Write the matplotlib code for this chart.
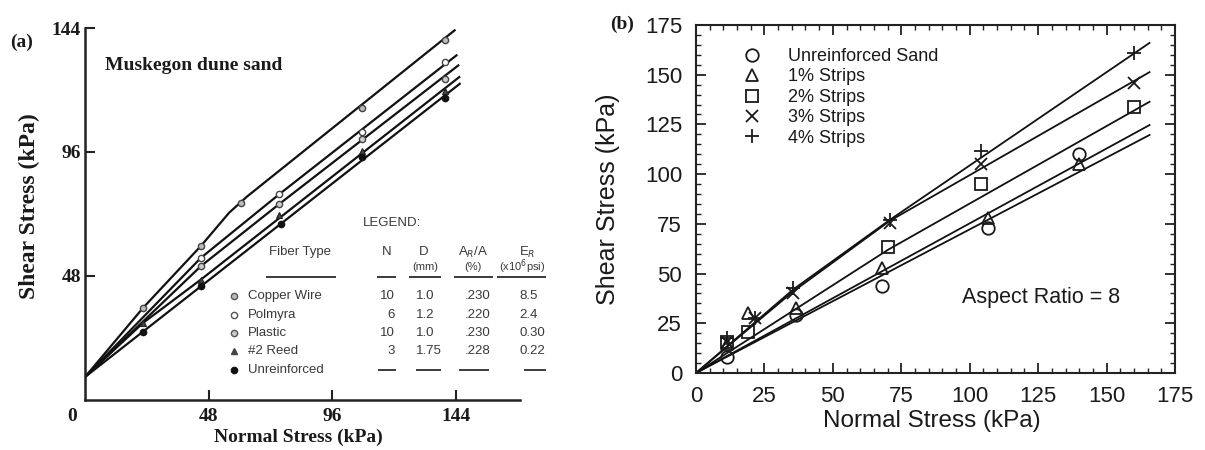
import matplotlib
matplotlib.use("Agg")
import matplotlib.pyplot as plt
from matplotlib.lines import Line2D
from matplotlib.ticker import MultipleLocator

# ---------------- Panel (a): Muskegon dune sand ----------------
a_xticks = [48, 96, 144]
a_yticks = [48, 96, 144]

# measured points
a_copper_x = [22.5, 45.0, 60.6, 107.5, 140.0]
a_copper_y = [35.6, 59.6, 76.4, 112.9, 139.5]
a_palmyra_x = [45.0, 75.4, 107.5, 140.0]
a_palmyra_y = [55.0, 79.6, 103.6, 130.8]
a_plastic_x = [45.0, 75.4, 107.5, 140.0]
a_plastic_y = [51.8, 75.8, 101.0, 124.3]
a_reed_x = [22.5, 45.0, 75.4, 107.5, 140.0]
a_reed_y = [29.8, 46.6, 71.5, 96.5, 119.8]
a_unr_x = [22.5, 45.0, 76.2, 107.5, 140.0]
a_unr_y = [26.5, 44.0, 68.0, 93.9, 116.8]

# failure envelopes
a_copper_fit_x = [0, 22.5, 45.0, 56.0, 63.0, 143.6]
a_copper_fit_y = [8.9, 35.6, 59.6, 72.5, 78.8, 143.1]
a_palmyra_fit_x = [0, 45.0, 75.4, 144.3]
a_palmyra_fit_y = [8.9, 55.0, 79.6, 133.4]
a_plastic_fit_x = [0, 45.0, 75.4, 145.0]
a_plastic_fit_y = [8.9, 51.8, 75.8, 129.5]
a_reed_fit_x = [0, 22.5, 45.0, 145.4]
a_reed_fit_y = [8.9, 29.8, 46.6, 125.0]
a_unr_fit_x = [0, 145.6]
a_unr_fit_y = [8.9, 122.4]

fiber_types = ["Copper Wire", "Polmyra", "Plastic", "#2 Reed", "Unreinforced"]
fiber_N = ["10", "6", "10", "3", ""]
fiber_D = ["1.0", "1.2", "1.0", "1.75", ""]
fiber_A = [".230", ".220", ".230", ".228", ""]
fiber_E = ["8.5", "2.4", "0.30", "0.22", ""]

# ---------------- Panel (b): Aspect ratio = 8 ----------------
b_ticks = [0, 25, 50, 75, 100, 125, 150, 175]
b_labels = ["Unreinforced Sand", "1% Strips", "2% Strips", "3% Strips", "4% Strips"]

b_unr_x = [11.4, 36.7, 68.1, 106.7, 140.1]
b_unr_y = [7.9, 29.2, 43.7, 72.7, 110.1]
b_s1_x = [11.4, 19.1, 36.7, 68.1, 106.7, 140.1]
b_s1_y = [14.5, 30.0, 32.5, 52.6, 77.8, 105.0]
b_s2_x = [11.4, 19.1, 70.2, 104.3, 160.2]
b_s2_y = [15.5, 20.8, 63.5, 95.0, 133.9]
b_s3_x = [11.4, 21.5, 35.5, 70.8, 104.3, 160.2]
b_s3_y = [15.7, 27.5, 40.1, 75.6, 104.9, 145.6]
b_s4_x = [11.4, 21.5, 35.5, 70.8, 104.3, 160.2]
b_s4_y = [17.4, 27.5, 42.6, 76.9, 111.8, 160.7]

b_unr_fit_x = [0, 165.7]
b_unr_fit_y = [0, 119.7]
b_s1_fit_x = [0, 165.7]
b_s1_fit_y = [0, 124.7]
b_s2_fit_x = [0, 70.2, 165.7]
b_s2_fit_y = [0, 62.0, 136.4]
b_s3_fit_x = [0, 35.5, 70.8, 165.7]
b_s3_fit_y = [0, 41.0, 76.5, 151.3]
b_s4_fit_x = [0, 35.5, 70.8, 165.7]
b_s4_fit_y = [0, 42.0, 77.0, 166.0]

# ======================================================================
W, H = 1205, 450
fig = plt.figure(figsize=(W / 100, H / 100), dpi=100)
fig.patch.set_facecolor("white")

def fx(px):
    return px / W

def fy(py):
    return 1 - py / H

SERIF = ["Liberation Serif", "DejaVu Serif"]
SANS = ["Liberation Sans", "DejaVu Sans"]
INK = "#1a1a1a"

# ---------------- Panel (a) ----------------
axa = fig.add_axes([fx(85), fy(400), (520 - 85) / W, (400 - 28) / H])
axa.set_xlim(0, 169)
axa.set_ylim(0, 144)
for s in ["top", "right"]:
    axa.spines[s].set_visible(False)
for s in ["left", "bottom"]:
    axa.spines[s].set_linewidth(1.8)
    axa.spines[s].set_color("#222222")

lw_a = 1.6
for fx_, fy_ in [(a_copper_fit_x, a_copper_fit_y), (a_palmyra_fit_x, a_palmyra_fit_y),
                 (a_plastic_fit_x, a_plastic_fit_y), (a_reed_fit_x, a_reed_fit_y),
                 (a_unr_fit_x, a_unr_fit_y)]:
    axa.plot(fx_, fy_, color="#111111", lw=lw_a, solid_joinstyle="round", zorder=2)

ms_a = 4.5
axa.plot(a_copper_x, a_copper_y, "o", ms=ms_a, mfc="#bbbbbb", mec="#444444", mew=1.0, zorder=3)
axa.plot(a_palmyra_x, a_palmyra_y, "o", ms=ms_a, mfc="white", mec="#444444", mew=1.0, zorder=3)
axa.plot(a_plastic_x, a_plastic_y, "o", ms=ms_a, mfc="#cccccc", mec="#444444", mew=1.0, zorder=3)
axa.plot(a_reed_x, a_reed_y, "^", ms=ms_a, mfc="#444444", mec="#222222", mew=0.8, zorder=3)
axa.plot(a_unr_x, a_unr_y, "o", ms=ms_a, mfc="#111111", mec="#111111", zorder=3)

axa.set_xticks(a_xticks)
axa.set_yticks(a_yticks)
axa.set_xticklabels([str(v) for v in a_xticks])
axa.set_yticklabels([str(v) for v in a_yticks])
axa.tick_params(direction="in", length=7, width=1.5, color="#222222")
axa.tick_params(axis="x", pad=6)
axa.tick_params(axis="y", pad=3)
for lab in axa.get_xticklabels() + axa.get_yticklabels():
    lab.set_fontfamily(SERIF)
    lab.set_fontweight("bold")
    lab.set_fontsize(14)
    lab.set_color(INK)
axa.annotate("0", xy=(0, 0), xytext=(-9, -6), textcoords="offset points",
             ha="center", va="top", fontsize=14, fontweight="bold",
             family=SERIF, color=INK, annotation_clip=False)

axa.set_xlabel("Normal Stress (kPa)", family=SERIF, fontweight="bold",
               fontsize=14, color=INK, va="center")
axa.xaxis.set_label_coords((298 - 85) / 435, (400 - 437) / 372)
axa.set_ylabel("Shear Stress (kPa)", family=SERIF, fontweight="bold",
               fontsize=17, color=INK, va="center")
axa.yaxis.set_label_coords((29 - 85) / 435, (400 - 206) / 372)

fig.text(fx(22), fy(42), "(a)", family=SERIF, fontweight="bold", fontsize=14,
         ha="center", va="center", color=INK)
axa.text((105 - 85) / 435, (400 - 65) / 372, "Muskegon dune sand", transform=axa.transAxes,
         family=SERIF, fontweight="bold", fontsize=14, ha="left", va="center", color=INK)

# legend table of panel (a)
TC = "#3a3a3a"
tfs = 9.5
fig.text(fx(363), fy(223), "LEGEND:", family=SANS, fontsize=tfs, color=TC, ha="left", va="center")
fig.text(fx(300), fy(252), "Fiber Type", family=SANS, fontsize=tfs, color=TC, ha="center", va="center")
fig.text(fx(387), fy(252), "N", family=SANS, fontsize=tfs, color=TC, ha="center", va="center")
fig.text(fx(424), fy(252), "D", family=SANS, fontsize=tfs, color=TC, ha="center", va="center")
fig.text(fx(425), fy(267), "(mm)", family=SANS, fontsize=8, color=TC, ha="center", va="center")
fig.text(fx(473), fy(252), r"A$_R$/A", family=SANS, fontsize=tfs, color=TC, ha="center", va="center")
fig.text(fx(473), fy(267), "(%)", family=SANS, fontsize=8, color=TC, ha="center", va="center")
fig.text(fx(527), fy(252), r"E$_R$", family=SANS, fontsize=tfs, color=TC, ha="center", va="center")
fig.text(fx(522), fy(267), r"(x10$^6$psi)", family=SANS, fontsize=8, color=TC, ha="center", va="center")
for x0, x1 in [(267, 335), (378, 395), (410, 440), (455, 492), (498, 545)]:
    fig.add_artist(Line2D([fx(x0), fx(x1)], [fy(277), fy(277)], transform=fig.transFigure,
                          color=TC, lw=1.4))

row_y = [296, 315, 333, 351, 370]
mk_styles = [dict(marker="o", mfc="#bbbbbb", mec="#555555"),
             dict(marker="o", mfc="white", mec="#555555"),
             dict(marker="o", mfc="#cccccc", mec="#555555"),
             dict(marker="^", mfc="#444444", mec="#444444"),
             dict(marker="o", mfc="#111111", mec="#111111")]
for i, name in enumerate(fiber_types):
    yy = fy(row_y[i])
    fig.add_artist(Line2D([fx(234)], [yy], transform=fig.transFigure, ls="none",
                          ms=4.5, mew=1.0, **mk_styles[i]))
    fig.text(fx(248), yy, name, family=SANS, fontsize=tfs, color=TC, ha="left", va="center")
    if fiber_N[i]:
        fig.text(fx(395), yy, fiber_N[i], family=SANS, fontsize=tfs, color=TC, ha="right", va="center")
        fig.text(fx(416), yy, fiber_D[i], family=SANS, fontsize=tfs, color=TC, ha="left", va="center")
        fig.text(fx(490), yy, fiber_A[i], family=SANS, fontsize=tfs, color=TC, ha="right", va="center")
        fig.text(fx(519), yy, fiber_E[i], family=SANS, fontsize=tfs, color=TC, ha="left", va="center")
    else:
        for x0, x1 in [(379, 395), (417, 440), (460, 488), (525, 545)]:
            fig.add_artist(Line2D([fx(x0), fx(x1)], [yy, yy], transform=fig.transFigure,
                                  color=TC, lw=1.4))

# ---------------- Panel (b) ----------------
axb = fig.add_axes([fx(696), fy(373), (1175 - 696) / W, (373 - 25) / H])
axb.set_xlim(0, 175)
axb.set_ylim(0, 175)
for s in axb.spines.values():
    s.set_linewidth(1.5)
    s.set_color("#222222")

lw_b = 1.3
for fx_, fy_ in [(b_unr_fit_x, b_unr_fit_y), (b_s1_fit_x, b_s1_fit_y), (b_s2_fit_x, b_s2_fit_y),
                 (b_s3_fit_x, b_s3_fit_y), (b_s4_fit_x, b_s4_fit_y)]:
    axb.plot(fx_, fy_, color="#111111", lw=lw_b, zorder=2)

mkw = dict(ls="none", mfc="none", mec="#1a1a1a", mew=1.3, zorder=3)
h0, = axb.plot(b_unr_x, b_unr_y, marker="o", ms=9, **mkw)
h1, = axb.plot(b_s1_x, b_s1_y, marker="^", ms=8, **mkw)
h2, = axb.plot(b_s2_x, b_s2_y, marker="s", ms=8.5, **mkw)
h3, = axb.plot(b_s3_x, b_s3_y, marker="x", ms=9, **mkw)
h4, = axb.plot(b_s4_x, b_s4_y, marker="+", ms=10, **mkw)

leg = axb.legend([h0, h1, h2, h3, h4], b_labels, loc="upper left",
                 bbox_to_anchor=((743 - 696) / 479, (373 - 48) / 348),
                 frameon=False, borderpad=0, borderaxespad=0, handlelength=1.0,
                 handletextpad=1.5, labelspacing=0.19, numpoints=1,
                 prop=dict(family=SANS, size=13))
for t in leg.get_texts():
    t.set_color(INK)

axb.set_xticks(b_ticks)
axb.set_yticks(b_ticks)
axb.xaxis.set_minor_locator(MultipleLocator(5))
axb.yaxis.set_minor_locator(MultipleLocator(5))
axb.tick_params(which="both", direction="in", top=True, right=True, color="#222222")
axb.tick_params(which="major", length=7, width=1.3)
axb.tick_params(which="minor", length=3.5, width=1.0)
axb.tick_params(axis="x", which="major", pad=9)
axb.tick_params(axis="y", which="major", pad=10)
for lab in axb.get_xticklabels() + axb.get_yticklabels():
    lab.set_fontfamily(SANS)
    lab.set_fontsize(16)
    lab.set_color(INK)

axb.set_xlabel("Normal Stress (kPa)", family=SANS, fontsize=17.5, color=INK, va="center")
axb.xaxis.set_label_coords((932 - 696) / 479, (373 - 421) / 348)
axb.set_ylabel("Shear Stress (kPa)", family=SANS, fontsize=18, color=INK, va="center")
axb.yaxis.set_label_coords((608 - 696) / 479, (373 - 199) / 348)

axb.text((962 - 696) / 479, (373 - 298) / 348, "Aspect Ratio = 8", transform=axb.transAxes,
         family=SANS, fontsize=15.5, ha="left", va="center", color=INK)
fig.text(fx(622), fy(24), "(b)", family=SERIF, fontweight="bold", fontsize=14,
         ha="center", va="center", color=INK)

fig.savefig("out.png", dpi=100, facecolor="white")
